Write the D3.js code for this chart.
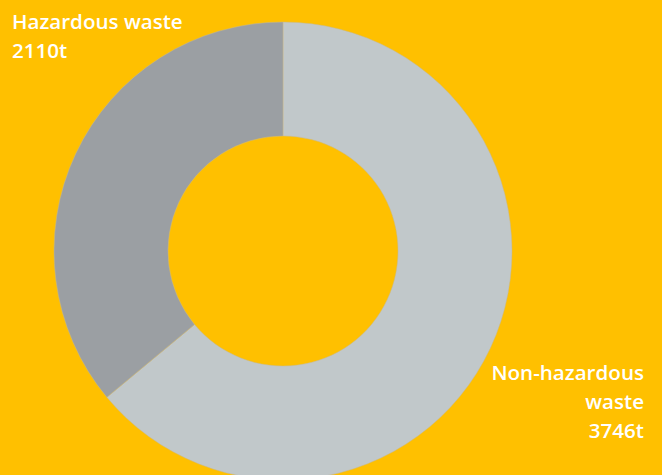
<!DOCTYPE html>
<html>
<head>
<meta charset="utf-8">
<script src="https://cdn.jsdelivr.net/npm/d3@7"></script>
<style>
  body { margin: 0; background: #FFC000; }
  text { font-family: "Open Sans", sans-serif; font-weight: 600; fill: #fff; }
</style>
</head>
<body>
<div id="chart"></div>
<script>
var categories = ["Non-hazardous waste", "Hazardous waste"];
var values = [3746, 2110];
var units = "t";
var colors = ["#C1C8CA", "#9B9FA3"];

var width = 662;
var height = 475;
var cx = 283, cy = 251;
var outerR = 229, innerR = 115;

var svg = d3.select("#chart")
  .append("svg")
  .attr("width", width)
  .attr("height", height);

svg.append("rect")
  .attr("width", width)
  .attr("height", height)
  .attr("fill", "#FFC000");

var pie = d3.pie().sort(null).value(function (d) { return d; });
var arc = d3.arc().innerRadius(innerR).outerRadius(outerR);

var g = svg.append("g")
  .attr("transform", "translate(" + cx + "," + cy + ")");

g.selectAll("path")
  .data(pie(values))
  .join("path")
  .attr("d", arc)
  .attr("fill", function (d, i) { return colors[i]; })
  .attr("stroke", "#C9B98A")
  .attr("stroke-width", 0.5);

// labels
var fs = 20.6;
var lh = 29;

// hazardous, top left
var t1 = svg.append("text").attr("x", 12).attr("y", 29).style("font-size", fs + "px");
t1.append("tspan").attr("x", 12).text("Hazardous waste");
t1.append("tspan").attr("x", 12).attr("dy", lh).text(values[1] + units);

// non-hazardous, bottom right
var t2 = svg.append("text").attr("text-anchor", "end").attr("y", 380).style("font-size", fs + "px");
t2.append("tspan").attr("x", 644).text("Non-hazardous");
t2.append("tspan").attr("x", 644).attr("dy", lh).text("waste");
t2.append("tspan").attr("x", 644).attr("dy", lh).text(values[0] + units);
</script>
</body>
</html>
